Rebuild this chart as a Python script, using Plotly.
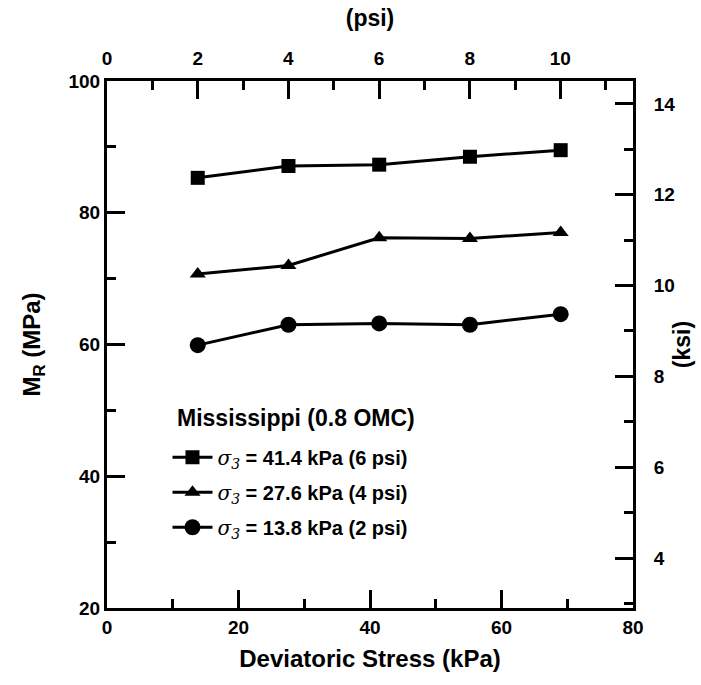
import plotly.graph_objects as go

deviatoric_kpa = [13.8, 27.6, 41.4, 55.2, 69.0]
mr_41_4 = [85.3, 87.1, 87.3, 88.5, 89.5]
mr_27_6 = [70.7, 72.0, 76.2, 76.1, 77.0]
mr_13_8 = [59.9, 63.0, 63.2, 63.0, 64.6]

SIG = '<span style="font-family:\'DejaVu Serif\';font-style:italic;font-weight:normal">σ<sub>3</sub></span>'
labels = [
    SIG + ' = 41.4 kPa (6 psi)',
    SIG + ' = 27.6 kPa (4 psi)',
    SIG + ' = 13.8 kPa (2 psi)',
]
legend_title = "Mississippi (0.8 OMC)"
series = [mr_41_4, mr_27_6, mr_13_8]
symbols = ["square", "triangle-up", "circle"]
sizes = [14, 14, 16]

KPA_PER_PSI = 6.895
x_range = [0, 80]
y_range = [20, 100]

FONT = "Liberation Sans"
fig = go.Figure()
for i, (ys, lab, sym, sz) in enumerate(zip(series, labels, symbols, sizes)):
    fig.add_trace(go.Scatter(
        x=deviatoric_kpa, y=ys, name=lab, mode="lines+markers",
        legendgroup=f"g{i}",
        line=dict(color="black", width=3),
        marker=dict(symbol=sym, size=sz, color="black"),
    ))

# attach the secondary (psi / ksi) axes so they are drawn
fig.add_trace(go.Scatter(x=[], y=[], xaxis="x2", yaxis="y2", showlegend=False,
                         hoverinfo="skip"))

axis_common = dict(
    showline=True, linecolor="black", linewidth=3, ticks="inside",
    ticklen=18, tickwidth=3, tickcolor="black", showgrid=False, zeroline=False,
    automargin=False,
    tickfont=dict(family=FONT, size=19, color="black", weight="bold"),
)
minor = dict(ticks="inside", ticklen=9, tickwidth=3, tickcolor="black", showgrid=False)

fig.update_layout(
    width=701, height=685,
    margin=dict(l=107, r=68, t=81, b=77),
    plot_bgcolor="white", paper_bgcolor="white",
    font=dict(family=FONT, color="black", weight="bold"),
    showlegend=True,
    legend=dict(
        x=0.115, y=0.323, xanchor="left", yanchor="top",
        bgcolor="rgba(0,0,0,0)", itemwidth=40, tracegroupgap=6,
        font=dict(family=FONT, size=20, color="black", weight="bold"),
    ),
    annotations=[dict(
        text=legend_title, xref="paper", yref="paper", x=0.36, y=0.361,
        xanchor="center", yanchor="middle", showarrow=False,
        font=dict(family=FONT, size=23, color="black", weight="bold"),
    )],
    xaxis=dict(
        range=x_range, dtick=20, tick0=0, minor=dict(dtick=10, **minor),
        title=dict(text="Deviatoric Stress (kPa)", standoff=14,
                   font=dict(family=FONT, size=24, color="black", weight="bold")),
        **axis_common,
    ),
    xaxis2=dict(
        overlaying="x", side="top", anchor="y",
        range=[x_range[0] / KPA_PER_PSI, x_range[1] / KPA_PER_PSI],
        dtick=2, tick0=0, minor=dict(dtick=1, **minor),
        ticklabelstandoff=5,
        title=dict(text="(psi)", standoff=16,
                   font=dict(family=FONT, size=23, color="black", weight="bold")),
        **axis_common,
    ),
    yaxis=dict(
        range=y_range, dtick=20, tick0=0, minor=dict(dtick=10, **minor),
        title=dict(text="M<sub>R</sub> (MPa)", standoff=22,
                   font=dict(family=FONT, size=24, color="black", weight="bold")),
        **axis_common,
    ),
    yaxis2=dict(
        overlaying="y", side="right", anchor="x",
        range=[y_range[0] / KPA_PER_PSI, y_range[1] / KPA_PER_PSI],
        dtick=2, tick0=0, minor=dict(dtick=1, **minor),
        ticklabelstandoff=14,
        title=dict(text="(ksi)", standoff=0,
                   font=dict(family=FONT, size=23, color="black", weight="bold")),
        **axis_common,
    ),
)

fig.write_html("out.html")
